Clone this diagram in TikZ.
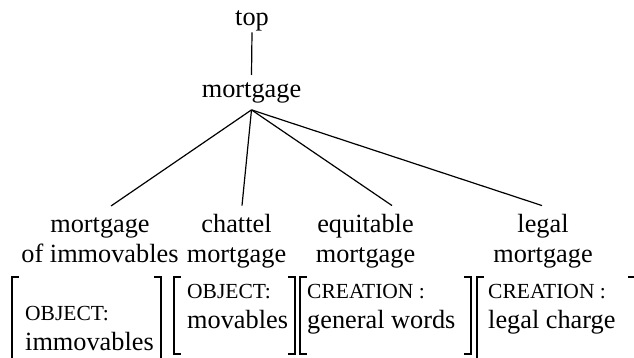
\documentclass[tikz,border=0pt]{standalone}
\usepackage{fontspec}
\setmainfont{Liberation Serif}
\newcommand{\featfont}{\fontsize{21.5}{30}\selectfont}

\begin{document}
\begin{tikzpicture}[
        x=1pt, y=-1pt, % ось y направлена вниз
        font=\fontsize{26.3}{30}\selectfont,
        edge/.style = {draw, line width=1.2pt},
        brk/.style = {draw, line width=1.4pt}, % скобки матриц признаков
        word/.style = {anchor=base, align=center, inner sep=8pt}, % Стиль узлов дерева
        avm/.style = {anchor=base west, align=left, inner sep=0pt},
    ]
    \useasboundingbox (0,0) rectangle (634,357);

    \node[word, inner sep=1.5pt] (top) at (252,25) {top};
    \node[word, inner sep=7pt] (mort) at (251.5,97) {mortgage};

    \node[word, inner ysep=11pt] (immov) at (100,262) {mortgage\\of immovables};
    \node[word] (chattel) at (236.5,262) {chattel\\mortgage};
    \node[word] (equit) at (365.5,262) {equitable\\mortgage};
    \node[word] (legal) at (543,262) {legal\\mortgage};

    \path[edge] (top.south) -- (mort.north);
    \path[edge] (mort.south) -- ([xshift=11pt]immov.north);
    \path[edge] (mort.south) -- ([xshift=5.5pt]chattel.north);
    \path[edge] (mort.south) -- ([xshift=26.5pt]equit.north);
    \path[edge] (mort.south) -- ([xshift=-1pt]legal.north);

    % матрицы признаков
    \node[avm] (obj1) at (25,350) {{\featfont OBJECT:}\\immovables};
    \node[avm] (obj2) at (187,328) {{\featfont OBJECT:}\\movables};
    \node[avm] (cre1) at (307,328) {{\featfont CREATION :}\\general words};
    \node[avm] (cre2) at (488,328) {{\featfont CREATION :}\\legal charge};

    \foreach \xl/\xr/\yb in {12/161/380, 174/295/354, 300/471/354, 477/635/380} {
        \path[brk] (\xl+7,277) -| (\xl,\yb) -- ++(7,0);
        \path[brk] (\xr-7,277) -| (\xr,\yb) -- ++(-7,0);
    }
\end{tikzpicture}
\end{document}
